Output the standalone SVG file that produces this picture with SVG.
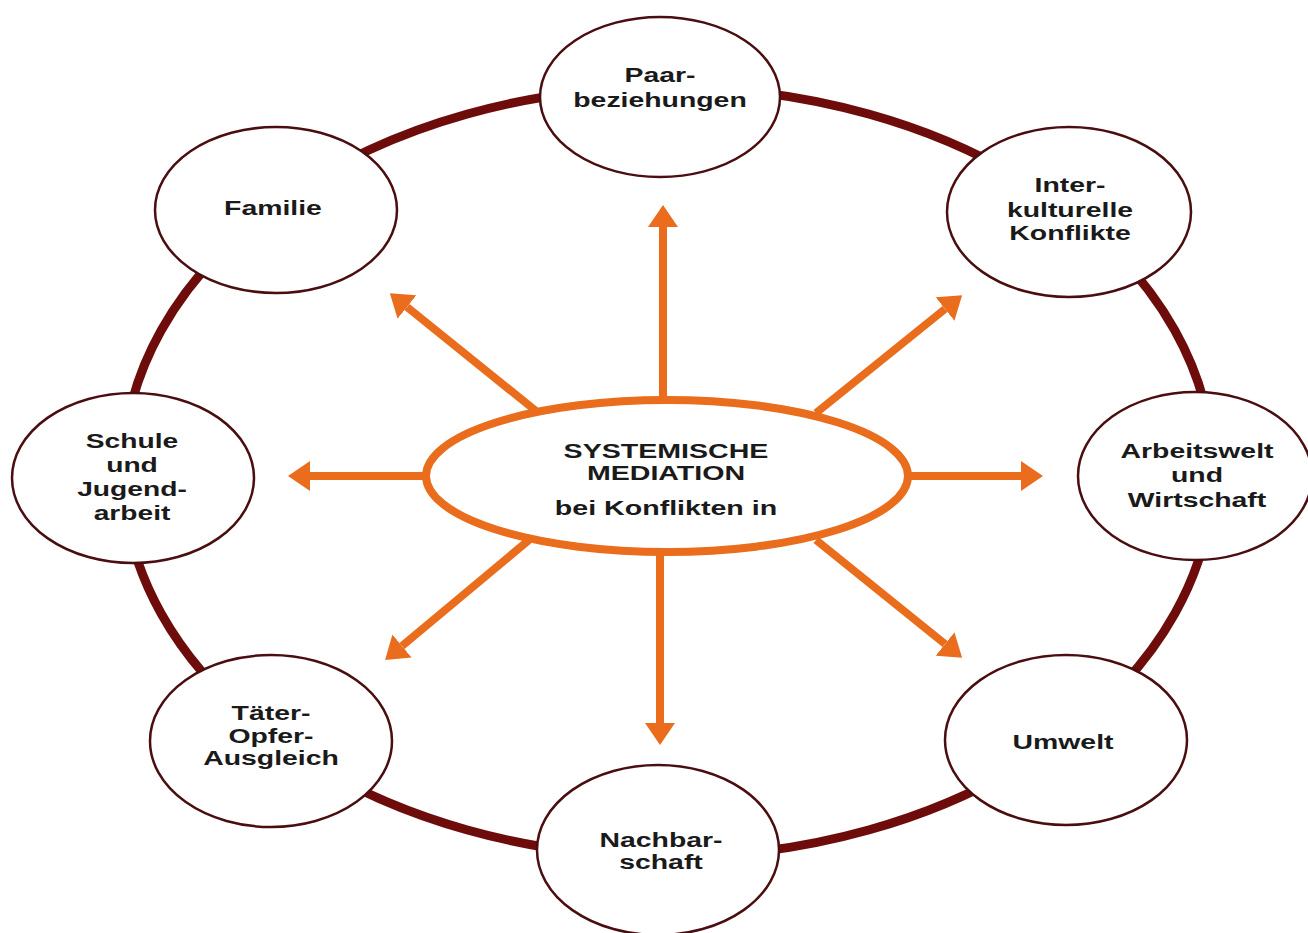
<svg xmlns="http://www.w3.org/2000/svg" width="1308" height="933" viewBox="0 0 1308 933">
<style>
.node{fill:#ffffff;stroke:#4a0d10;stroke-width:2.5}
.ring{fill:none;stroke:#6e0c0c;stroke-width:9}
.arr{fill:none;stroke:#e96d1c;stroke-width:8}
.center{fill:#ffffff;stroke:#e96d1c;stroke-width:8}
text{font-family:"Liberation Sans",Arial,sans-serif;font-weight:bold;font-size:20px;fill:#1a1a1a;text-anchor:middle}
</style>
<defs>
<marker id="ah" markerUnits="userSpaceOnUse" viewBox="0 0 22 30" markerWidth="22" markerHeight="30" refX="0" refY="15" orient="auto">
<path d="M0,0 L22,15 L0,30 z" fill="#e96d1c"/>
</marker>
</defs>
<rect width="1308" height="933" fill="#ffffff"/>
<ellipse class="ring" cx="668" cy="472" rx="545" ry="385"/>
<g id="connectors">
<line class="arr" x1="663" y1="405" x2="663" y2="227" marker-end="url(#ah)"/>
<line class="arr" x1="660" y1="546" x2="660" y2="723" marker-end="url(#ah)"/>
<line class="arr" x1="905" y1="476" x2="1021" y2="476" marker-end="url(#ah)"/>
<line class="arr" x1="428" y1="476" x2="310" y2="476" marker-end="url(#ah)"/>
<line class="arr" x1="536" y1="411" x2="407" y2="307" marker-end="url(#ah)"/>
<line class="arr" x1="816" y1="413" x2="945" y2="309" marker-end="url(#ah)"/>
<line class="arr" x1="529" y1="540" x2="402" y2="646" marker-end="url(#ah)"/>
<line class="arr" x1="816" y1="540" x2="945" y2="644" marker-end="url(#ah)"/>
</g>
<g id="center">
<ellipse class="center" cx="667" cy="476" rx="241" ry="76"/>
<text transform="translate(666,0) scale(1.43,1)" x="0" y="458">SYSTEMISCHE</text>
<text transform="translate(666,0) scale(1.43,1)" x="0" y="480">MEDIATION</text>
<text transform="translate(666,0) scale(1.43,1)" x="0" y="515">bei Konflikten in</text>
</g>
<g id="paar">
<ellipse class="node" cx="660" cy="97" rx="120" ry="80"/>
<text transform="translate(660,0) scale(1.42,1)" x="0" y="82">Paar-</text>
<text transform="translate(660,0) scale(1.42,1)" x="0" y="107">beziehungen</text>
</g>
<g id="familie">
<ellipse class="node" cx="276" cy="210" rx="121" ry="83"/>
<text transform="translate(273,0) scale(1.42,1)" x="0" y="215">Familie</text>
</g>
<g id="inter">
<ellipse class="node" cx="1069" cy="212" rx="122" ry="85"/>
<text transform="translate(1070,0) scale(1.42,1)" x="0" y="192">Inter-</text>
<text transform="translate(1070,0) scale(1.42,1)" x="0" y="217">kulturelle</text>
<text transform="translate(1070,0) scale(1.42,1)" x="0" y="240">Konflikte</text>
</g>
<g id="schule">
<ellipse class="node" cx="133" cy="478" rx="121" ry="85"/>
<text transform="translate(132,0) scale(1.41,1)" x="0" y="448">Schule</text>
<text transform="translate(132,0) scale(1.41,1)" x="0" y="472">und</text>
<text transform="translate(132,0) scale(1.41,1)" x="0" y="496">Jugend-</text>
<text transform="translate(132,0) scale(1.41,1)" x="0" y="520">arbeit</text>
</g>
<g id="arbeitswelt">
<ellipse class="node" cx="1195" cy="476" rx="117" ry="84"/>
<text transform="translate(1197,0) scale(1.42,1)" x="0" y="458">Arbeitswelt</text>
<text transform="translate(1197,0) scale(1.42,1)" x="0" y="482">und</text>
<text transform="translate(1197,0) scale(1.42,1)" x="0" y="507">Wirtschaft</text>
</g>
<g id="taeter">
<ellipse class="node" cx="271" cy="741" rx="121" ry="86"/>
<text transform="translate(271,0) scale(1.42,1)" x="0" y="720">Täter-</text>
<text transform="translate(271,0) scale(1.42,1)" x="0" y="743">Opfer-</text>
<text transform="translate(271,0) scale(1.42,1)" x="0" y="765">Ausgleich</text>
</g>
<g id="umwelt">
<ellipse class="node" cx="1066" cy="740" rx="121" ry="85"/>
<text transform="translate(1063,0) scale(1.42,1)" x="0" y="749">Umwelt</text>
</g>
<g id="nachbarschaft">
<ellipse class="node" cx="658" cy="850" rx="121" ry="85"/>
<text transform="translate(661,0) scale(1.42,1)" x="0" y="847">Nachbar-</text>
<text transform="translate(661,0) scale(1.42,1)" x="0" y="869">schaft</text>
</g>
</svg>
